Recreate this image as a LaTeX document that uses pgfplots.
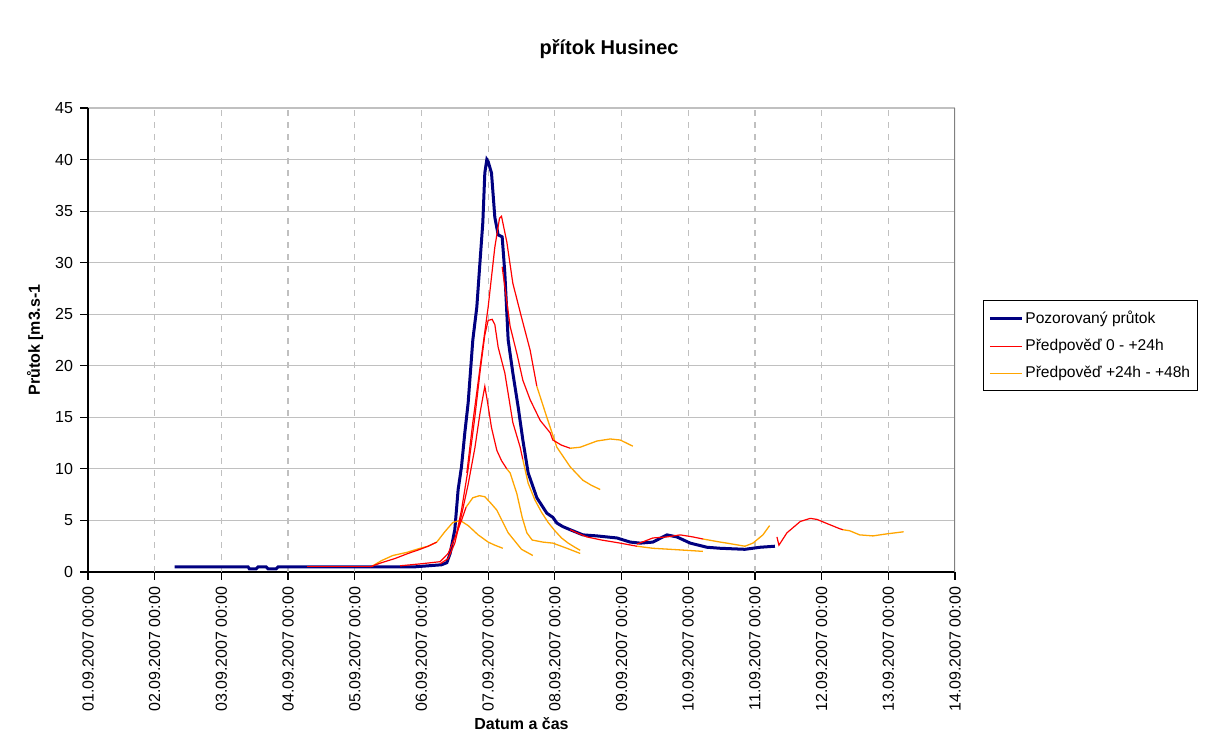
\documentclass[border=0pt]{standalone}
\usepackage{fontspec}
\setmainfont{Liberation Sans}
\usepackage{pgfplots}
\pgfplotsset{compat=1.18}
\definecolor{obs}{RGB}{0,0,128}
\definecolor{fca}{RGB}{255,0,0}
\definecolor{fcb}{RGB}{255,165,0}
\definecolor{gridc}{RGB}{192,192,192}
\begin{document}
\begin{tikzpicture}
\useasboundingbox (0,0) rectangle (604.5pt,376.5pt);
\begin{axis}[
  name=ax, at={(44pt,90.5pt)}, anchor=south west,
  scale only axis, width=433.5pt, height=232pt,
  xmin=1, xmax=14, ymin=0, ymax=45,
  axis lines*=left,
  axis line style={black, line width=0.6pt},
  xtick={1,...,14},
  xticklabels={01.09.2007 00:00,02.09.2007 00:00,03.09.2007 00:00,04.09.2007 00:00,05.09.2007 00:00,06.09.2007 00:00,07.09.2007 00:00,08.09.2007 00:00,09.09.2007 00:00,10.09.2007 00:00,11.09.2007 00:00,12.09.2007 00:00,13.09.2007 00:00,14.09.2007 00:00},
  ytick={0,5,...,45},
  tick align=outside, major tick length=4pt,
  tick style={black, line width=0.6pt},
  x tick label style={rotate=90, anchor=east, font=\fontsize{8}{9}\selectfont},
  y tick label style={font=\fontsize{8}{9}\selectfont},
  /pgf/number format/assume math mode=true,
  ymajorgrids, grid style={gridc, line width=0.6pt},
  extra x ticks={2,3,4,5,6,7,8,9,10,11,12,13},
  extra x tick labels={},
  extra x tick style={grid=major, major tick length=0pt, major grid style={gridc, dashed, dash pattern=on 3pt off 3pt, line width=0.6pt}},
  title={přítok Husinec},
  title style={at={(0.601,1.0905)}, anchor=base, yshift=0pt, font=\bfseries\fontsize{10}{12}\selectfont},
  xlabel={Datum a čas},
  xlabel style={at={(0.5,-0.3405)}, anchor=base, font=\bfseries\fontsize{8}{9}\selectfont},
  ylabel={Průtok [m3.s-1},
  ylabel style={at={(-0.0611,0.5)}, anchor=center, font=\bfseries\fontsize{8}{9}\selectfont},
  legend style={at={(1.032,0.586)}, anchor=north west, draw=black, line width=0.6pt, fill=white,
    font=\fontsize{7.8}{9}\selectfont, row sep=2.4pt, inner xsep=2.5pt, inner ysep=3pt,
    cells={anchor=west}, nodes={inner xsep=1pt}},
  legend image code/.code={\draw[#1] (0pt,0pt) -- (16pt,0pt);},
]
\draw[gray, line width=0.6pt] (axis cs:14,0) -- (axis cs:14,45);
% observed
\addplot[obs, line width=1.5pt] coordinates {
(2.30,0.5)(3.40,0.5)(3.42,0.3)(3.52,0.3)(3.55,0.5)(3.67,0.5)(3.70,0.3)(3.82,0.3)(3.85,0.5)
(5.90,0.5)(6.10,0.6)(6.30,0.7)(6.38,0.9)(6.43,1.8)(6.50,4.1)(6.55,8.0)(6.60,10.2)(6.65,13.5)
(6.70,16.4)(6.77,22.5)(6.83,25.7)(6.88,30.3)(6.92,33.9)(6.95,38.7)(6.98,40.0)(7.00,39.8)
(7.05,38.7)(7.10,34.4)(7.15,32.7)(7.21,32.5)(7.25,29.0)(7.30,22.5)(7.37,19.3)(7.45,16.0)
(7.52,12.8)(7.60,9.6)(7.73,7.2)(7.88,5.7)(7.97,5.3)(8.03,4.75)(8.12,4.4)(8.23,4.1)(8.42,3.6)
(8.63,3.5)(8.93,3.3)(9.13,2.9)(9.28,2.8)(9.47,2.9)(9.68,3.6)(9.83,3.4)(10.03,2.8)(10.28,2.4)
(10.48,2.3)(10.85,2.2)(11.08,2.4)(11.30,2.5)};
\addlegendentry{Pozorovaný průtok}
% run 1 red
\addplot[fca, line width=0.6pt] coordinates {(4.28,0.5)(5.27,0.5)};
\addlegendentry{Předpověď 0 -  +24h}
\addplot[fcb, line width=0.65pt] coordinates {(5.27,0.6)(5.40,1.1)(5.57,1.6)(5.78,1.9)(5.98,2.3)(6.10,2.5)(6.23,2.9)};
\addlegendentry{Předpověď +24h -  +48h}
% run 2
\addplot[fca, line width=0.6pt, forget plot] coordinates {(5.23,0.5)(5.40,0.9)(5.60,1.3)(5.80,1.8)(5.98,2.2)(6.10,2.5)(6.23,2.9)};
\addplot[fcb, line width=0.65pt, forget plot] coordinates {(6.23,2.9)(6.35,3.9)(6.47,4.8)(6.58,5.0)(6.70,4.5)(6.85,3.6)(7.00,2.9)(7.10,2.6)(7.22,2.3)};
% run 3
\addplot[fca, line width=0.6pt, forget plot] coordinates {(5.68,0.6)(6.00,0.8)(6.28,1.0)(6.40,1.8)(6.50,3.3)(6.60,5.0)(6.67,6.3)};
\addplot[fcb, line width=0.65pt, forget plot] coordinates {(6.67,6.3)(6.77,7.2)(6.87,7.4)(6.95,7.3)(7.05,6.6)(7.13,6.0)(7.30,3.8)(7.50,2.2)(7.67,1.6)};
% run 4
\addplot[fca, line width=0.6pt, forget plot] coordinates {(6.28,0.8)(6.40,1.3)(6.50,2.8)(6.60,5.5)(6.70,8.5)(6.80,12.0)(6.88,15.5)(6.95,18.0)(6.99,16.5)(7.05,14.0)(7.13,11.8)(7.20,10.8)(7.28,10.0)};
\addplot[fcb, line width=0.65pt, forget plot] coordinates {(7.28,10.0)(7.33,9.6)(7.43,7.6)(7.51,5.3)(7.58,3.8)(7.66,3.1)(7.82,2.9)(7.97,2.8)(8.18,2.3)(8.38,1.8)};
% run 5
\addplot[fca, line width=0.6pt, forget plot] coordinates {(6.52,3.5)(6.60,6.0)(6.70,10.0)(6.80,15.0)(6.88,19.5)(6.95,23.0)(7.00,24.4)(7.06,24.5)(7.10,24.0)(7.15,21.8)(7.25,19.3)(7.37,14.5)(7.48,12.1)(7.52,10.9)};
\addplot[fcb, line width=0.65pt, forget plot] coordinates {(7.52,10.9)(7.60,8.6)(7.70,7.0)(7.80,5.8)(7.90,4.8)(8.00,4.0)(8.10,3.3)(8.20,2.8)(8.30,2.4)(8.38,2.1)};
% run 6
\addplot[fca, line width=0.6pt, forget plot] coordinates {(6.68,9.6)(6.77,14.5)(6.90,20.9)(7.00,25.7)(7.10,31.5)(7.17,34.3)(7.20,34.5)(7.28,32.0)(7.37,28.0)(7.50,24.7)(7.63,21.5)(7.73,18.0)};
\addplot[fcb, line width=0.65pt, forget plot] coordinates {(7.73,18.0)(7.88,15.0)(8.03,12.1)(8.23,10.2)(8.42,8.9)(8.55,8.4)(8.68,8.0)};
% run 7
\addplot[fca, line width=0.6pt, forget plot] coordinates {(7.21,29.6)(7.33,23.8)(7.43,21.2)(7.52,18.6)(7.63,16.7)(7.78,14.7)(7.93,13.5)(7.97,12.8)(8.10,12.3)(8.23,12.0)};
\addplot[fcb, line width=0.65pt, forget plot] coordinates {(8.23,12.0)(8.38,12.1)(8.63,12.7)(8.83,12.9)(8.98,12.8)(9.17,12.2)};
% run 8
\addplot[fca, line width=0.6pt, forget plot] coordinates {(8.23,4.1)(8.33,3.8)(8.48,3.4)(8.70,3.1)(8.98,2.8)(9.23,2.5)};
\addplot[fcb, line width=0.65pt, forget plot] coordinates {(9.23,2.5)(9.47,2.3)(9.73,2.2)(9.98,2.1)(10.22,2.0)};
% run 9
\addplot[fca, line width=0.6pt, forget plot] coordinates {(9.23,2.7)(9.47,3.3)(9.68,3.4)(9.88,3.6)(10.07,3.4)(10.22,3.2)};
\addplot[fcb, line width=0.65pt, forget plot] coordinates {(10.22,3.2)(10.48,2.9)(10.58,2.8)(10.85,2.5)(10.97,2.8)(11.12,3.6)(11.22,4.5)};
% run 10
\addplot[fca, line width=0.6pt, forget plot] coordinates {(11.33,3.4)(11.36,2.6)(11.48,3.8)(11.68,4.9)(11.83,5.2)(11.93,5.1)(12.08,4.7)(12.27,4.2)(12.32,4.1)};
\addplot[fcb, line width=0.65pt, forget plot] coordinates {(12.32,4.1)(12.42,4.0)(12.57,3.6)(12.77,3.5)(12.98,3.7)(13.23,3.9)};
\end{axis}
\end{tikzpicture}
\end{document}
